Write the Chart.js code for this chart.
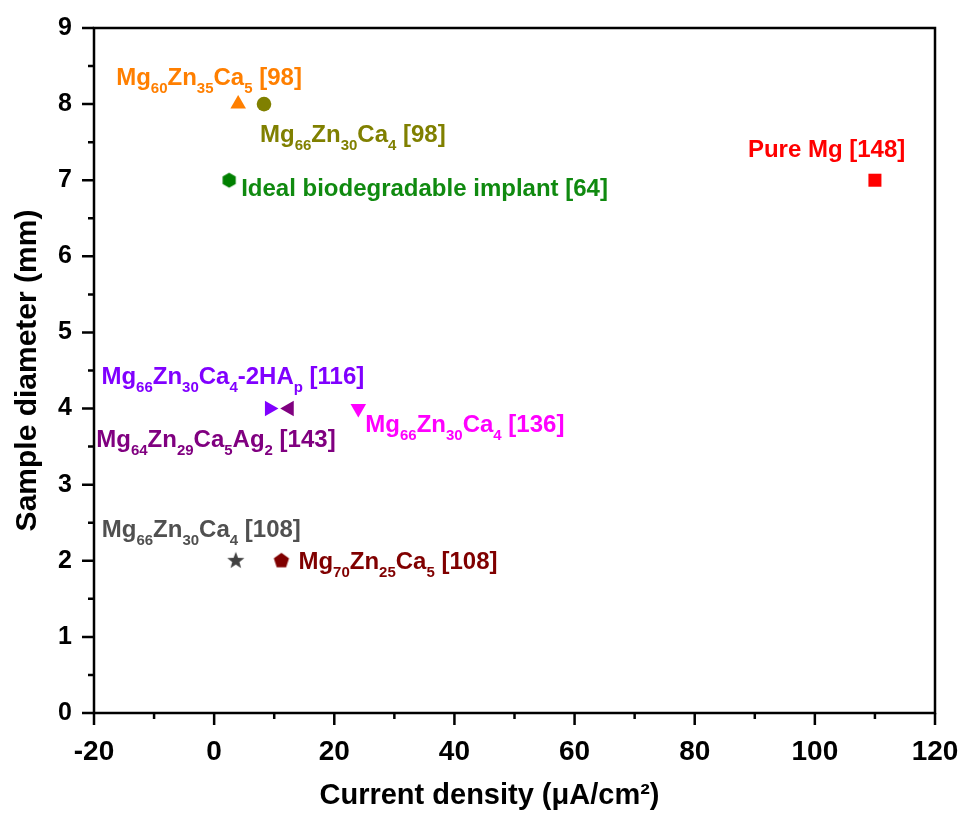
<!DOCTYPE html>
<html>
<head>
<meta charset="utf-8">
<script src="https://cdn.jsdelivr.net/npm/chart.js@4.4.0/dist/chart.umd.min.js"></script>
<style>
  html, body { margin: 0; padding: 0; background: #fff; }
  #wrap { width: 962px; height: 813px; }
</style>
</head>
<body>
<div id="wrap"><canvas id="myChart" width="962" height="813"></canvas></div>
<script>
// data
var names = [
  "Pure Mg [148]",
  "Mg_{60}Zn_{35}Ca_{5} [98]",
  "Mg_{66}Zn_{30}Ca_{4} [98]",
  "Ideal biodegradable implant [64]",
  "Mg_{66}Zn_{30}Ca_{4}-2HA_{p} [116]",
  "Mg_{64}Zn_{29}Ca_{5}Ag_{2} [143]",
  "Mg_{66}Zn_{30}Ca_{4} [136]",
  "Mg_{66}Zn_{30}Ca_{4} [108]",
  "Mg_{70}Zn_{25}Ca_{5} [108]"
];
var currentDensity = [110, 4, 8.3, 2.5, 9.2, 12.5, 24, 3.6, 11.2];
var diameter = [7, 8, 8, 7, 4, 4, 4, 2, 2];
var xTicks = [-20, 0, 20, 40, 60, 80, 100, 120];
var yTicks = [0, 1, 2, 3, 4, 5, 6, 7, 8, 9];
var xTitle = "Current density (\u03bcA/cm\u00b2)";
var yTitle = "Sample diameter (mm)";

var colors = ["#ff0000", "#ff7f00", "#808000", "#008000", "#8000ff", "#800080", "#ff00ff", "#404040", "#800000"];
var textColors = ["#ff0000", "#ff7f00", "#808000", "#108a10", "#8000ff", "#800080", "#ff00ff", "#505050", "#800000"];
var shapes = ["rect", "triangle", "circle", "hexagon", "right", "left", "down", "star", "pentagon"];
// label offset from the marker (left edge, baseline), in px
var labelOffsets = [[-127, -23], [-122, -19], [-4, 38], [12, 16], [-168, -25], [-193, 38], [7, 23], [-134, -24], [17, 8]];

function polyCanvas(n, r, color, star) {
  var s = Math.ceil(r * 2 + 2);
  var c = document.createElement("canvas");
  c.width = s; c.height = s;
  var ctx = c.getContext("2d");
  ctx.fillStyle = color;
  ctx.beginPath();
  var pts = star ? n * 2 : n;
  for (var i = 0; i < pts; i++) {
    var a = -Math.PI / 2 + i * 2 * Math.PI / pts;
    var rr = (star && i % 2 === 1) ? r * 0.42 : r;
    var px = s / 2 + Math.cos(a) * rr, py = s / 2 + Math.sin(a) * rr;
    if (i === 0) ctx.moveTo(px, py); else ctx.lineTo(px, py);
  }
  ctx.closePath();
  ctx.fill();
  return c;
}

function styleFor(shape, color) {
  if (shape === "rect") return { pointStyle: "rect", radius: 9.2, rotation: 0 };
  if (shape === "triangle") return { pointStyle: "triangle", radius: 9, rotation: 0 };
  if (shape === "right") return { pointStyle: "triangle", radius: 9, rotation: 90 };
  if (shape === "left") return { pointStyle: "triangle", radius: 9, rotation: -90 };
  if (shape === "down") return { pointStyle: "triangle", radius: 9, rotation: 180 };
  if (shape === "circle") return { pointStyle: "circle", radius: 7.3, rotation: 0 };
  if (shape === "hexagon") return { pointStyle: polyCanvas(6, 7.6, color), radius: 8, rotation: 0 };
  if (shape === "pentagon") return { pointStyle: polyCanvas(5, 8, color), radius: 8, rotation: 0 };
  return { pointStyle: polyCanvas(5, 9, color, true), radius: 9, rotation: 0 };
}

var datasets = names.map(function (n, i) {
  var st = styleFor(shapes[i], colors[i]);
  return {
    label: n,
    data: [{ x: currentDensity[i], y: diameter[i] }],
    backgroundColor: colors[i],
    borderColor: colors[i],
    borderWidth: 0,
    pointStyle: st.pointStyle,
    pointRadius: st.radius,
    rotation: st.rotation
  };
});

var FONT = "'Liberation Sans', Arial, sans-serif";

// draws text like "Mg_{60}Zn" with subscripts
function drawRich(ctx, text, x, y, color) {
  var parts = text.split(/(_\{[^}]*\})/);
  ctx.fillStyle = color;
  ctx.textBaseline = "alphabetic";
  ctx.textAlign = "left";
  parts.forEach(function (p) {
    if (!p) return;
    if (p.indexOf("_{") === 0) {
      var t = p.slice(2, -1);
      ctx.font = "bold 15px " + FONT;
      ctx.fillText(t, x, y + 8);
      x += ctx.measureText(t).width;
    } else {
      ctx.font = "bold 24px " + FONT;
      ctx.fillText(p, x, y);
      x += ctx.measureText(p).width;
    }
  });
}

var framePlugin = {
  id: "frame",
  afterDatasetsDraw: function (chart) {
    var ctx = chart.ctx, a = chart.chartArea;
    var xs = chart.scales.x, ys = chart.scales.y;
    ctx.save();
    ctx.strokeStyle = "#000";
    ctx.lineWidth = 2.5;
    ctx.strokeRect(a.left, a.top, a.right - a.left, a.bottom - a.top);
    ctx.beginPath();
    xs.ticks.forEach(function (t) {
      var px = xs.getPixelForValue(t.value);
      var len = xTicks.indexOf(t.value) >= 0 ? 12 : 6;
      ctx.moveTo(px, a.bottom);
      ctx.lineTo(px, a.bottom + len);
    });
    ys.ticks.forEach(function (t) {
      var py = ys.getPixelForValue(t.value);
      var len = yTicks.indexOf(t.value) >= 0 ? 12 : 6;
      ctx.moveTo(a.left, py);
      ctx.lineTo(a.left - len, py);
    });
    ctx.stroke();
    // x title sits a little left of the plot centre in the original
    ctx.fillStyle = "#000";
    ctx.font = "bold 29px " + FONT;
    ctx.textAlign = "center";
    ctx.textBaseline = "middle";
    ctx.fillText(xTitle, (a.left + a.right) / 2 - 25, xs.bottom - 17);
    chart.data.datasets.forEach(function (ds, i) {
      var el = chart.getDatasetMeta(i).data[0];
      drawRich(ctx, names[i], el.x + labelOffsets[i][0], el.y + labelOffsets[i][1], textColors[i]);
    });
    ctx.restore();
  }
};

new Chart(document.getElementById("myChart"), {
  type: "scatter",
  data: { datasets: datasets },
  options: {
    responsive: false,
    animation: false,
    layout: { padding: { top: 28, right: 27, left: 0, bottom: 0 } },
    plugins: { legend: { display: false }, tooltip: { enabled: false } },
    scales: {
      x: {
        type: "linear",
        min: -20,
        max: 120,
        afterFit: function (s) { s.height = 100; s.paddingLeft = 0; s.paddingRight = 0; },
        grid: { display: true, drawOnChartArea: false, drawTicks: false },
        border: { display: false },
        ticks: {
          stepSize: 10,
          autoSkip: false,
          maxRotation: 0,
          padding: 22,
          color: "#000",
          font: { family: FONT, size: 28, weight: "bold" },
          callback: function (v) { return xTicks.indexOf(v) >= 0 ? v : ""; }
        },
        title: { display: false }
      },
      y: {
        type: "linear",
        min: 0,
        max: 9,
        afterFit: function (s) { s.width = 94; s.paddingTop = 0; s.paddingBottom = 0; },
        grid: { display: true, drawOnChartArea: false, drawTicks: false },
        border: { display: false },
        ticks: {
          stepSize: 0.5,
          autoSkip: false,
          padding: 22,
          color: "#000",
          font: { family: FONT, size: 25, weight: "bold" },
          callback: function (v) { return yTicks.indexOf(v) >= 0 ? v : ""; }
        },
        title: {
          display: true,
          text: yTitle,
          color: "#000",
          padding: { top: 10, bottom: 0 },
          font: { family: FONT, size: 30, weight: "bold" }
        }
      }
    }
  },
  plugins: [framePlugin]
});
</script>
</body>
</html>
